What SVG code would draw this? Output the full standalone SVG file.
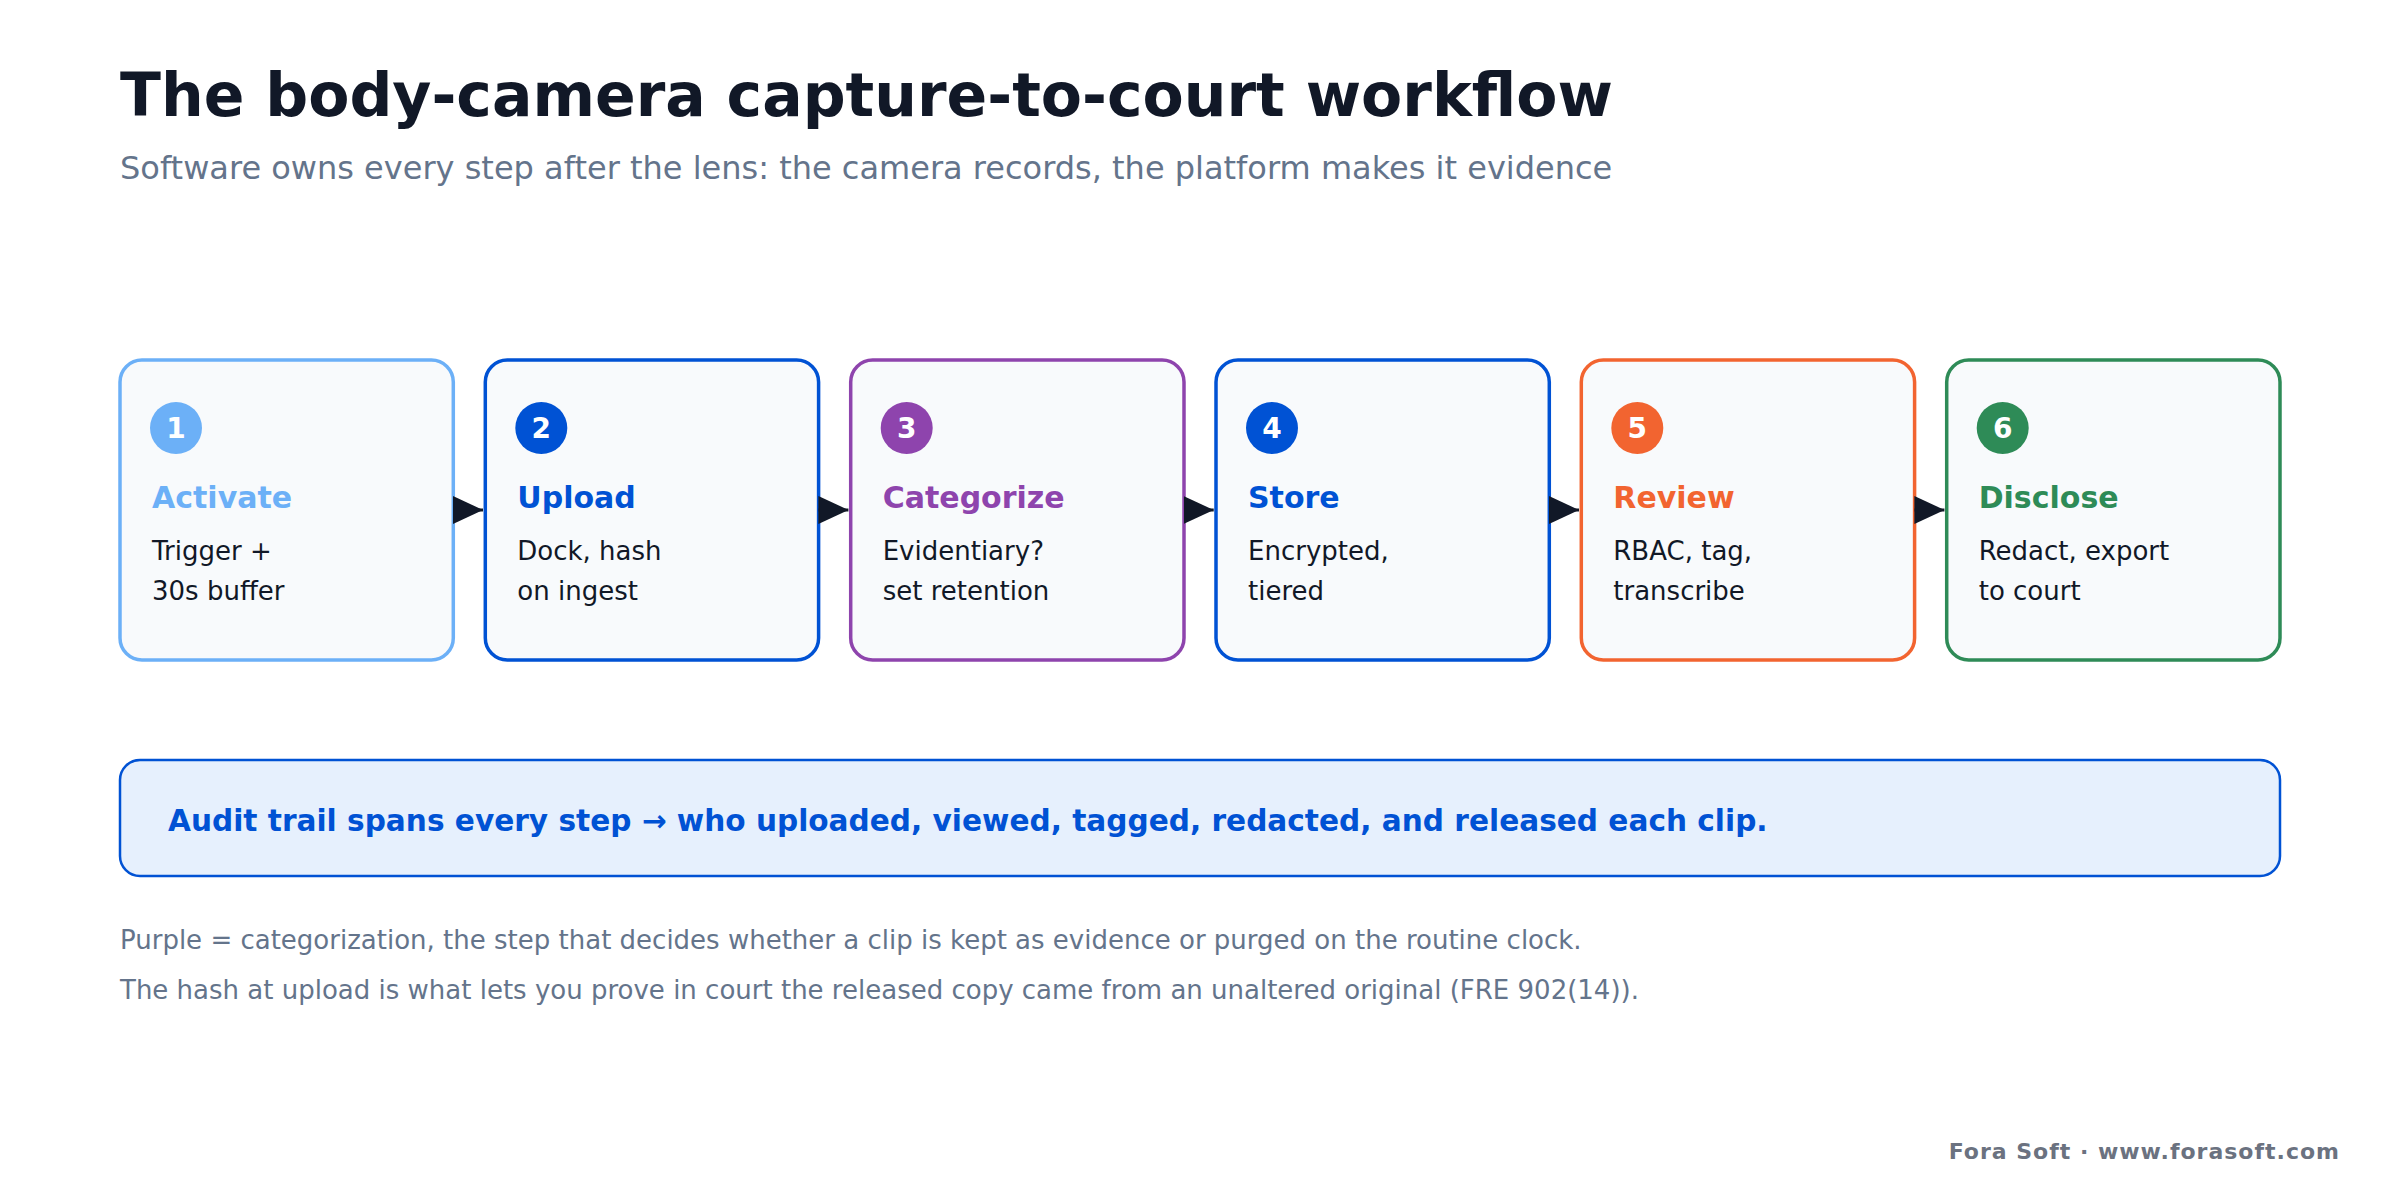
<svg xmlns="http://www.w3.org/2000/svg" width="2400" height="1200" viewBox="0 0 2400 1200">
<defs>
<style>
text{font-family:"DejaVu Sans","Liberation Sans",sans-serif}
.title{font-size:60px;font-weight:bold;fill:#111827}
.sub{font-size:32px;fill:#64748B}
.box{fill:#F8FAFC;stroke-width:3.5}
.num{font-size:28px;font-weight:bold;fill:#FFFFFF;text-anchor:middle}
.head{font-size:30px;font-weight:bold}
.desc{font-size:26px;fill:#111827}
.note{font-size:26px;fill:#64748B}
.audit{font-size:29.6px;font-weight:bold;fill:#0052D4}
.foot{font-size:22px;font-weight:bold;fill:#6B7280;letter-spacing:1px;text-anchor:end}
.conn{stroke:#111827;stroke-width:3;fill:none}
</style>
<marker id="arr" viewBox="0 0 30 28" refX="30" refY="14" markerWidth="30" markerHeight="28" markerUnits="userSpaceOnUse" orient="auto">
<path d="M0,0 L30,14 L0,28 Z" fill="#111827"/>
</marker>
</defs>
<rect width="2400" height="1200" fill="#FFFFFF"/>
<text class="title" x="120" y="116">The body-camera capture-to-court workflow</text>
<text class="sub" x="120" y="179">Software owns every step after the lens: the camera records, the platform makes it evidence</text>

<g id="step1">
<rect class="box" x="120" y="360" width="333.3" height="300" rx="22" stroke="#6CB0F7"/>
<circle cx="176" cy="428" r="26" fill="#6CB0F7"/>
<text class="num" x="176" y="438">1</text>
<text class="head" x="152" y="508" fill="#6CB0F7">Activate</text>
<text class="desc" x="152" y="560">Trigger +</text>
<text class="desc" x="152" y="600">30s buffer</text>
</g>
<g id="step2">
<rect class="box" x="485.3" y="360" width="333.3" height="300" rx="22" stroke="#0052D4"/>
<circle cx="541.3" cy="428" r="26" fill="#0052D4"/>
<text class="num" x="541.3" y="438">2</text>
<text class="head" x="517.3" y="508" fill="#0052D4">Upload</text>
<text class="desc" x="517.3" y="560">Dock, hash</text>
<text class="desc" x="517.3" y="600">on ingest</text>
</g>
<g id="step3">
<rect class="box" x="850.7" y="360" width="333.3" height="300" rx="22" stroke="#8E44AD"/>
<circle cx="906.7" cy="428" r="26" fill="#8E44AD"/>
<text class="num" x="906.7" y="438">3</text>
<text class="head" x="882.7" y="508" fill="#8E44AD">Categorize</text>
<text class="desc" x="882.7" y="560">Evidentiary?</text>
<text class="desc" x="882.7" y="600">set retention</text>
</g>
<g id="step4">
<rect class="box" x="1216" y="360" width="333.3" height="300" rx="22" stroke="#0052D4"/>
<circle cx="1272" cy="428" r="26" fill="#0052D4"/>
<text class="num" x="1272" y="438">4</text>
<text class="head" x="1248" y="508" fill="#0052D4">Store</text>
<text class="desc" x="1248" y="560">Encrypted,</text>
<text class="desc" x="1248" y="600">tiered</text>
</g>
<g id="step5">
<rect class="box" x="1581.3" y="360" width="333.3" height="300" rx="22" stroke="#F26430"/>
<circle cx="1637.3" cy="428" r="26" fill="#F26430"/>
<text class="num" x="1637.3" y="438">5</text>
<text class="head" x="1613.3" y="508" fill="#F26430">Review</text>
<text class="desc" x="1613.3" y="560">RBAC, tag,</text>
<text class="desc" x="1613.3" y="600">transcribe</text>
</g>
<g id="step6">
<rect class="box" x="1946.7" y="360" width="333.3" height="300" rx="22" stroke="#2E8B57"/>
<circle cx="2002.7" cy="428" r="26" fill="#2E8B57"/>
<text class="num" x="2002.7" y="438">6</text>
<text class="head" x="1978.7" y="508" fill="#2E8B57">Disclose</text>
<text class="desc" x="1978.7" y="560">Redact, export</text>
<text class="desc" x="1978.7" y="600">to court</text>
</g>

<g id="connectors">
<line class="conn" x1="453.3" y1="510" x2="483" y2="510" marker-end="url(#arr)"/>
<line class="conn" x1="818.6" y1="510" x2="848.4" y2="510" marker-end="url(#arr)"/>
<line class="conn" x1="1184" y1="510" x2="1213.7" y2="510" marker-end="url(#arr)"/>
<line class="conn" x1="1549.3" y1="510" x2="1579" y2="510" marker-end="url(#arr)"/>
<line class="conn" x1="1914.6" y1="510" x2="1944.4" y2="510" marker-end="url(#arr)"/>
</g>

<g id="audit">
<rect x="120" y="760" width="2160" height="116" rx="20" fill="#E6F0FD" stroke="#0052D4" stroke-width="2.5"/>
<text class="audit" x="168" y="831">Audit trail spans every step → who uploaded, viewed, tagged, redacted, and released each clip.</text>
</g>

<text class="note" x="120" y="949">Purple = categorization, the step that decides whether a clip is kept as evidence or purged on the routine clock.</text>
<text class="note" x="120" y="999">The hash at upload is what lets you prove in court the released copy came from an unaltered original (FRE 902(14)).</text>
<text class="foot" x="2340" y="1159">Fora Soft · www.forasoft.com</text>
</svg>
